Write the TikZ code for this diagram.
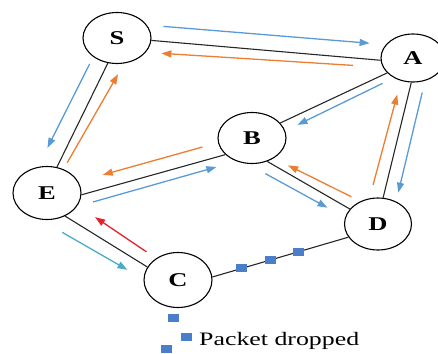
\documentclass[tikz,border=0pt]{standalone}
\usepackage{fontspec}
\setmainfont{Liberation Serif}
\usetikzlibrary{shapes.geometric,arrows.meta,calc}

\definecolor{reqblue}{HTML}{5B9BD5}
\definecolor{reporange}{HTML}{ED7D31}
\definecolor{datateal}{HTML}{4BACC6}
\definecolor{errred}{HTML}{E8202A}
\definecolor{pktblue}{HTML}{4A7EC8}

% stretched letters, like the picture
\newcommand{\wide}[1]{\scalebox{1.36}[1]{#1}}
% arrow beside a link: style, from, to, start, start offset, end, end offset
\newcommand{\flow}[7]{\draw[#1] ($(#2)!#4!(#3)!#5!90:(#3)$) -- ($(#2)!#6!(#3)!#7!90:(#3)$);}

\begin{document}
\begin{tikzpicture}[x=1pt, y=-1pt,
    station/.style={draw, ellipse, line width=1.1pt, inner sep=0pt,
        minimum width=68pt, minimum height=51pt,
        font=\fontsize{19.5}{20}\selectfont\bfseries},
    link/.style={line width=1.1pt, black!85},
    rreq/.style={reqblue, line width=1.3pt, -{Triangle[length=10pt,width=7pt]}},
    rrep/.style={reporange, line width=1.3pt, -{Triangle[length=10pt,width=7pt]}},
    data/.style={datateal, line width=1.3pt, -{Triangle[length=10pt,width=7pt]}},
    rerr/.style={errred, line width=1.3pt, -{Triangle[length=10pt,width=7pt]}},
    pkt/.style={fill=pktblue, inner sep=0pt, minimum width=11pt, minimum height=8pt}]
    \useasboundingbox (0,0) rectangle (438,353);

    % Nodes
    \node[station] (S) at (117,38) {\wide{S}};
    \node[station, minimum width=64pt, minimum height=48pt] (A) at (413,58) {\wide{A}};
    \node[station] (B) at (252,138) {\wide{B}};
    \node[station, minimum height=53pt] (E) at (47,193) {\wide{E}};
    \node[station, minimum height=55pt] (C) at (178,280) {\wide{C}};
    \node[station, minimum width=67pt, minimum height=52pt] (D) at (378,224) {\wide{D}};

    % Links
    \draw[link] (S.-4) -- (A.184);
    \draw[link] (S.-110) -- (E.69);
    \draw[link] (A.210) -- (B.28);
    \draw[link] (A.-94) -- (D.79);
    \draw[link] (B.-57) -- (D.152);
    \draw[link] (E.-3) -- (B.212);
    \draw[link] (E.-52) -- (C.157);
    \draw[link] (C.5) -- (D.204);

    % Route requests
    \flow{rreq}{S.-4}{A.184}{0.047}{15pt}{0.946}{16pt}
    \flow{rreq}{S.-110}{E.69}{0.075}{-16pt}{0.887}{-17pt}
    \flow{rreq}{A.210}{B.28}{0.072}{7.5pt}{0.875}{9pt}
    \flow{rreq}{A.-94}{D.79}{0.06}{13pt}{0.928}{13.5pt}
    \flow{rreq}{B.-57}{D.152}{0.047}{-11.5pt}{0.79}{-10pt}
    \flow{rreq}{E.-3}{B.212}{0.061}{-10pt}{0.92}{-9.5pt}

    % Route replies
    \flow{rrep}{A.184}{S.-4}{0.118}{7.5pt}{0.952}{12pt}
    \flow{rrep}{E.69}{S.-110}{0.073}{-7.3pt}{0.953}{-14pt}
    \flow{rrep}{D.79}{A.-94}{0.086}{12.8pt}{0.873}{10.8pt}
    \flow{rrep}{D.152}{B.-57}{0.05}{-11.4pt}{0.79}{-7pt}
    \flow{rrep}{B.212}{E.-3}{0.134}{-13.5pt}{0.827}{-13.5pt}

    % E to C and the error back
    \flow{data}{E.-52}{C.157}{0.064}{-15.3pt}{0.84}{-12.9pt}
    \flow{rerr}{C.157}{E.-52}{0.09}{-12.4pt}{0.73}{-14.9pt}

    % Dropped packets on C--D
    \node[pkt] (p1) at ($(C.5)!0.215!(D.204)$) {};
    \node[pkt] (p2) at ($(C.5)!0.43!(D.204)$) {};
    \node[pkt] (p3) at ($(C.5)!0.635!(D.204)$) {};

    % Legend
    \node[pkt] (l1) at (173,318) {};
    \node[pkt] (l2) at (186,337) {};
    \node[pkt] (l3) at (166,349) {};
    \node[anchor=base west, inner sep=0pt, font=\fontsize{19}{20}\selectfont] (lbl) at (199,345) {\wide{Packet dropped}};
\end{tikzpicture}
\end{document}
